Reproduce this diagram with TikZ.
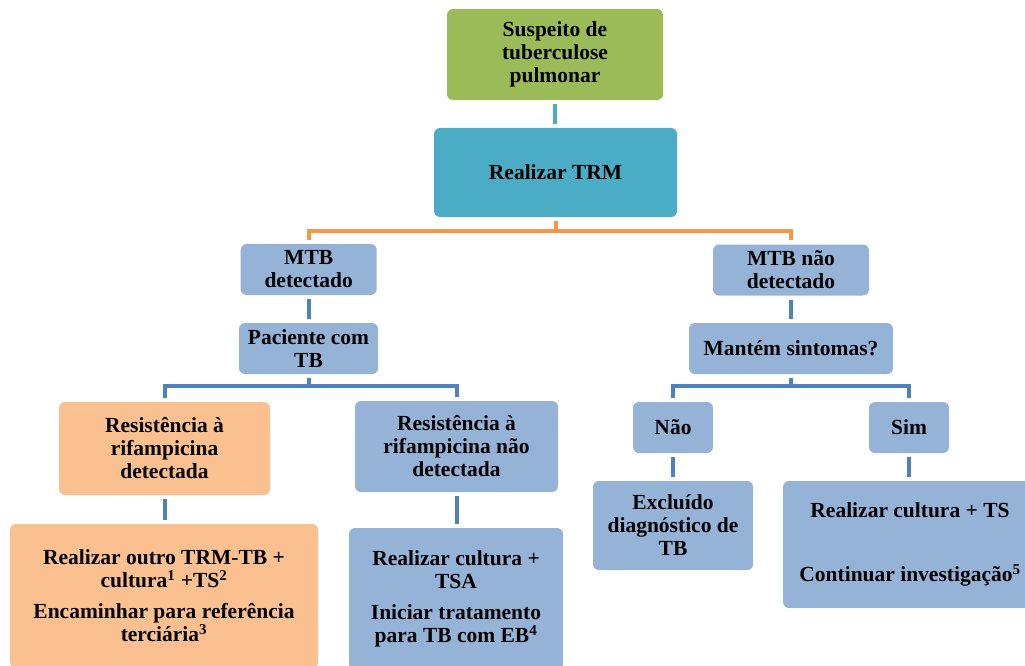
\documentclass[tikz,border=0pt]{standalone}
\usepackage{fontspec}
\setmainfont{Liberation Serif}
\definecolor{boxgreen}{HTML}{9BBB59}
\definecolor{boxteal}{HTML}{4BACC6}
\definecolor{boxblue}{HTML}{95B3D7}
\definecolor{boxorange}{HTML}{FAC090}
\definecolor{lineorange}{HTML}{F79646}
\definecolor{lineblue}{HTML}{4F81BD}
\tikzset{
  box/.style={rounded corners=6pt, inner sep=0pt, align=center,
    font=\fontsize{21.5}{23}\selectfont\bfseries},
  greenbox/.style={box, fill=boxgreen},
  tealbox/.style={box, fill=boxteal},
  bluebox/.style={box, fill=boxblue},
  orangebox/.style={box, fill=boxorange},
  link/.style={line width=4pt, shorten <=4pt, shorten >=4pt},
}
\begin{document}
\begin{tikzpicture}[x=1pt,y=-1pt]
\clip (0,0) rectangle (1025,666);
\node[greenbox, minimum width=216, minimum height=91] (susp) at (555,54.5) {Suspeito de\\tuberculose\\pulmonar};
\node[tealbox, minimum width=243, minimum height=89] (trm) at (555.5,172.5) {Realizar TRM};
\node[bluebox, minimum width=136, minimum height=51] (mtbd) at (308.7,269.5) {MTB\\detectado};
\node[bluebox, minimum width=139, minimum height=51] (pac) at (308.5,348.5) {Paciente com\\TB};
\node[bluebox, minimum width=156, minimum height=51] (mtbn) at (791,270) {MTB não\\detectado};
\node[bluebox, minimum width=204, minimum height=51] (mant) at (791,348.5) {Mantém sintomas?};
\node[orangebox, minimum width=211, minimum height=93] (resd) at (164.5,448.5) {Resistência à\\rifampicina\\detectada};
\node[bluebox, minimum width=203, minimum height=91] (resn) at (456.5,446.5) {Resistência à\\rifampicina não\\detectada};
\node[bluebox, minimum width=80, minimum height=51] (nao) at (673,427.5) {Não};
\node[bluebox, minimum width=80, minimum height=51] (sim) at (909,427.5) {Sim};
\node[orangebox, minimum width=308, minimum height=144] (encam) at (164,596) {Realizar outro TRM-TB +\\cultura\textsuperscript{1} +TS\textsuperscript{2}\\[8pt]Encaminhar para referência\\terciária\textsuperscript{3}};
\node[bluebox, minimum width=214, minimum height=142] (cultm) at (456,599) {Realizar cultura +\\TSA\\[8pt]Iniciar tratamento\\para TB com EB\textsuperscript{4}};
\node[bluebox, minimum width=160, minimum height=89] (excl) at (673,525.5) {Excluído\\diagnóstico de\\TB};
\node[bluebox, minimum width=254, minimum height=127] (contin) at (910,544.5) {Realizar cultura + TS\\[41pt]Continuar investigação\textsuperscript{5}};
\draw[link, boxteal] (susp.south) -- (susp.south |- trm.north);
\draw[link, lineorange] (trm.south) -- ++(0,14) -| (mtbd.north);
\draw[link, lineorange] (trm.south) -- ++(0,14) -| (mtbn.north);
\draw[link, lineblue] (mtbd.south) -- (mtbd.south |- pac.north);
\draw[link, lineblue] (mtbn.south) -- (mtbn.south |- mant.north);
\draw[link, lineblue] (pac.south) -- ++(0,12) -| (resd.north);
\draw[link, lineblue] (pac.south) -- ++(0,12) -| (resn.north);
\draw[link, lineblue] (mant.south) -- ++(0,12) -| (nao.north);
\draw[link, lineblue] (mant.south) -- ++(0,12) -| (sim.north);
\draw[link, lineblue] (resd.south) -- (resd.south |- encam.north);
\draw[link, lineblue] (resn.south) -- (resn.south |- cultm.north);
\draw[link, lineblue] (nao.south) -- (nao.south |- excl.north);
\draw[link, lineblue] (sim.south) -- (sim.south |- contin.north);
\end{tikzpicture}
\end{document}
